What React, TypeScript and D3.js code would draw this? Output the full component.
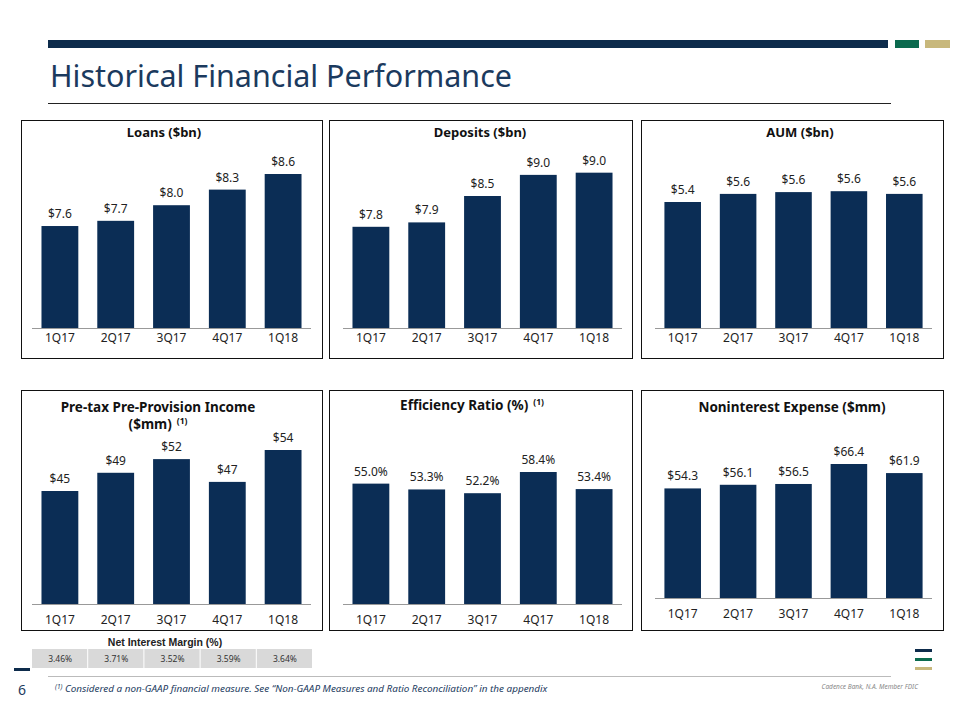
import React from "react";
import * as d3 from "d3";

const quarters = ["1Q17", "2Q17", "3Q17", "4Q17", "1Q18"];
const loans = [7.6, 7.7, 8.0, 8.3, 8.6];
const deposits = [7.8, 7.9, 8.5, 8.98, 9.03];
const aum = [5.4, 5.58, 5.62, 5.64, 5.58];
const pretaxIncome = [45, 49, 52, 47, 54];
const efficiency = [55.0, 53.3, 52.2, 58.4, 53.4];
const noninterest = [54.3, 56.1, 56.5, 66.4, 61.9];
const nimValues = [3.46, 3.71, 3.52, 3.59, 3.64];

const NAVY = "#0b2d55";
const FONT = "'Noto Sans', 'Open Sans', sans-serif";

type Panel = {
  title: string[];
  sup?: boolean;
  values: number[];
  fmt: (v: number) => string;
  box: [number, number, number, number];
  ax: [number, number];
  axisY: number;
  domain: [number, number];
  topY: number;
  titleX: number;
  titleY: number;
  titleSize: number;
  labelY: number;
};

const fmtBn = (v: number) => "$" + v.toFixed(1);
const panels: Panel[] = [
  { title: ["Loans ($bn)"], values: loans, fmt: fmtBn, box: [21, 120, 301, 238], ax: [32, 311], axisY: 328, domain: [5.64, 8.6], topY: 174, titleX: 164, titleY: 137, titleSize: 13, labelY: 342 },
  { title: ["Deposits ($bn)"], values: deposits, fmt: fmtBn, box: [329, 120, 303, 238], ax: [343, 622], axisY: 328, domain: [5.5, 9.0], topY: 174, titleX: 480, titleY: 137, titleSize: 13, labelY: 342 },
  { title: ["AUM ($bn)"], values: aum, fmt: fmtBn, box: [641, 120, 302, 238], ax: [655, 932], axisY: 328, domain: [2.6, 5.4], topY: 202, titleX: 800, titleY: 137, titleSize: 13, labelY: 342 },
  { title: ["Pre-tax Pre-Provision Income", "($mm)"], sup: true, values: pretaxIncome, fmt: (v) => "$" + d3.format(".0f")(v), box: [21, 390, 301, 240], ax: [32, 311], axisY: 604, domain: [20.2, 54], topY: 450, titleX: 158, titleY: 412, titleSize: 13.5, labelY: 624 },
  { title: ["Efficiency  Ratio  (%)"], sup: true, values: efficiency, fmt: (v) => v.toFixed(1) + "%", box: [329, 390, 303, 240], ax: [343, 622], axisY: 604, domain: [19.8, 58.4], topY: 472, titleX: 472, titleY: 410, titleSize: 13.5, labelY: 624 },
  { title: ["Noninterest  Expense ($mm)"], values: noninterest, fmt: (v) => "$" + v.toFixed(1), box: [641, 390, 302, 240], ax: [655, 932], axisY: 598, domain: [0, 66.4], topY: 464, titleX: 792, titleY: 412, titleSize: 13.5, labelY: 618 },
];

function BarPanel({ p }: { p: Panel }) {
  const x = d3.scaleBand<string>().domain(quarters).range(p.ax).paddingInner(0.34).paddingOuter(0.17);
  const y = d3.scaleLinear().domain(p.domain).range([p.axisY, p.topY]);
  const [bx, by, bw, bh] = p.box;
  return (
    <g>
      <rect x={bx + 0.5} y={by + 0.5} width={bw} height={bh} fill="#fff" stroke="#111" strokeWidth={1} />
      {p.title.length === 1 ? (
        <text x={p.titleX} y={p.titleY} textAnchor="middle" fontFamily={FONT} fontWeight={700} fontSize={p.titleSize} fill="#111">
          {p.title[0]}
          {p.sup && (
            <tspan dx={5} dy={-5} fontSize={8.5}>(1)</tspan>
          )}
        </text>
      ) : (
        <g>
          <text x={p.titleX} y={p.titleY} textAnchor="middle" fontFamily={FONT} fontWeight={700} fontSize={p.titleSize} fill="#111">
            {p.title[0]}
          </text>
          <text x={p.titleX} y={p.titleY + 17} textAnchor="middle" fontFamily={FONT} fontWeight={700} fontSize={p.titleSize} fill="#111">
            {p.title[1]}
            <tspan dx={5} dy={-5} fontSize={8.5}>(1)</tspan>
          </text>
        </g>
      )}
      {p.values.map((v, i) => {
        const q = quarters[i];
        const x0 = x(q) as number;
        return (
          <g key={q}>
            <rect x={x0} y={y(v)} width={x.bandwidth()} height={p.axisY - y(v)} fill={NAVY} />
            <text x={x0 + x.bandwidth() / 2} y={y(v) - 8} textAnchor="middle" fontFamily={FONT} fontSize={12} fill="#222">
              {p.fmt(v)}
            </text>
          </g>
        );
      })}
      <line x1={p.ax[0]} x2={p.ax[1]} y1={p.axisY + 0.5} y2={p.axisY + 0.5} stroke="#999" strokeWidth={1} />
      {quarters.map((q) => (
        <text key={q} x={(x(q) as number) + x.bandwidth() / 2} y={p.labelY} textAnchor="middle" fontFamily={FONT} fontSize={12} fill="#222">
          {q}
        </text>
      ))}
    </g>
  );
}

function NimTable() {
  const x = d3.scaleBand<string>().domain(quarters).range([32, 313]);
  return (
    <g>
      <text x={165} y={646} textAnchor="middle" fontFamily="'Liberation Sans', Arial, sans-serif" fontWeight={700} fontSize={10.5} fill="#222">
        Net Interest Margin (%)
      </text>
      {nimValues.map((v, i) => {
        const q = quarters[i];
        const x0 = x(q) as number;
        return (
          <g key={q}>
            <rect x={x0} y={649} width={x.bandwidth() - 1} height={19} fill="#d9d9d9" />
            <text x={x0 + x.bandwidth() / 2} y={662} textAnchor="middle" fontFamily={FONT} fontSize={8.5} fill="#333">
              {v.toFixed(2) + "%"}
            </text>
          </g>
        );
      })}
    </g>
  );
}

export default function App() {
  return (
    <svg width={960} height={720} style={{ position: "absolute", left: 0, top: 0, background: "#fff" }}>
      <rect x={0} y={0} width={960} height={720} fill="#fff" />
      <rect x={48} y={40} width={840} height={8} fill="#0d2b4b" />
      <rect x={895} y={40} width={24} height={8} fill="#0b6a4e" />
      <rect x={925} y={40} width={25} height={8} fill="#c8b87c" />
      <text x={50} y={87} fontFamily={FONT} fontSize={30} fill="#1b3a5e" textLength={462} lengthAdjust="spacingAndGlyphs">
        Historical Financial Performance
      </text>
      <line x1={48} x2={891} y1={103.5} y2={103.5} stroke="#222" strokeWidth={1} />
      {panels.map((p, i) => (
        <BarPanel key={i} p={p} />
      ))}
      <NimTable />
      <rect x={14} y={668} width={16} height={3} fill="#0d2b4b" />
      <line x1={48} x2={891} y1={676.5} y2={676.5} stroke="#bbb" strokeWidth={1} />
      <text x={18} y={695} fontFamily={FONT} fontSize={14} fill="#1b3a5e">6</text>
      <text x={55} y={692} fontFamily={FONT} fontStyle="italic" fontSize={9.5} fill="#1b3a5e">
        <tspan fontSize={6.5} dy={-3}>(1)</tspan>
        <tspan dy={3} textLength={485} lengthAdjust="spacingAndGlyphs"> Considered a non-GAAP financial measure. See “Non-GAAP Measures and Ratio Reconciliation” in the appendix</tspan>
      </text>
      <text x={918} y={689} textAnchor="end" fontFamily={FONT} fontStyle="italic" fontSize={6.5} fill="#888">
        Cadence Bank, N.A. Member FDIC
      </text>
      <rect x={915} y={649} width={17} height={3} fill="#0d2b4b" />
      <rect x={915} y={658} width={17} height={3} fill="#0b6a4e" />
      <rect x={915} y={667} width={17} height={3} fill="#c8b87c" />
    </svg>
  );
}
